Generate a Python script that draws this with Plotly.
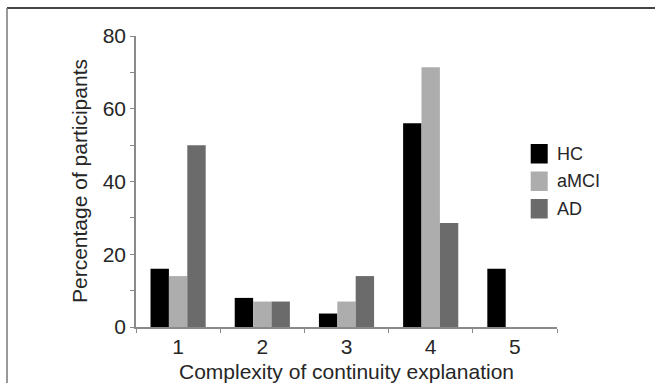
import plotly.graph_objects as go

categories = ["1", "2", "3", "4", "5"]
series_names = ["HC", "aMCI", "AD"]
hc = [16, 8, 3.7, 56, 16]
amci = [14, 7, 7, 71.4, 0]
ad = [50, 7, 14, 28.6, 0]
colors = ["#000000", "#adadad", "#6b6b6b"]
y_ticks = [0, 20, 40, 60, 80]

W, H = 655, 383
ML, MR, MT, MB = 136, 98, 36, 56
pw = W - ML - MR
ph = H - MT - MB
FONT = "Liberation Sans, Arial, sans-serif"
TXT = "#262626"

fig = go.Figure()
for name, vals, col in zip(series_names, [hc, amci, ad], colors):
    fig.add_trace(go.Bar(x=categories, y=vals, name=name, marker=dict(color=col, line=dict(width=0)),
                         showlegend=False))

fig.update_layout(
    width=W, height=H,
    margin=dict(l=ML, r=MR, t=MT, b=MB),
    paper_bgcolor="white", plot_bgcolor="white",
    barmode="group", bargap=0.345, bargroupgap=0,
    font=dict(family=FONT, size=21, color=TXT),
)
fig.update_xaxes(
    type="category", range=[-0.5, 4.5], showgrid=False, zeroline=False,
    showline=True, linecolor="#8a8a8a", linewidth=1.5,
    ticks="outside", tickson="boundaries", ticklen=4, tickcolor="#8a8a8a", tickwidth=1,
    tickfont=dict(size=21, color=TXT), ticklabelstandoff=0,
)
fig.update_yaxes(
    range=[0, 80], tickvals=y_ticks, showgrid=False, zeroline=False,
    showline=True, linecolor="#8a8a8a", linewidth=1.5,
    ticks="outside", ticklen=4, tickcolor="#8a8a8a", tickwidth=1,
    minor=dict(dtick=10, ticks="outside", ticklen=4, tickcolor="#8a8a8a", showgrid=False),
    tickfont=dict(size=21, color=TXT),
)

# axis titles
fig.add_annotation(text="Complexity of continuity explanation", xref="paper", yref="paper",
                   x=0.5, y=-(371 - (MT + ph)) / ph, xanchor="center", yanchor="middle",
                   showarrow=False, font=dict(size=21, color=TXT))
fig.add_annotation(text="Percentage of participants", xref="paper", yref="paper",
                   x=(79.5 - ML) / pw, y=0.5, xanchor="center", yanchor="middle", textangle=-90,
                   showarrow=False, font=dict(size=21, color=TXT))

# custom legend
lx0, lx1 = 530.7, 547.7
ly0 = 144
for i, (name, col) in enumerate(zip(series_names, colors)):
    top = ly0 + i * 27.5
    fig.add_shape(type="rect", xref="paper", yref="paper",
                  x0=(lx0 - ML) / pw, x1=(lx1 - ML) / pw,
                  y0=(MT + ph - top) / ph, y1=(MT + ph - top - 19.5) / ph,
                  fillcolor=col, line=dict(width=0))
    fig.add_annotation(text=name, xref="paper", yref="paper",
                       x=(555 - ML) / pw, y=(MT + ph - top - 9.75) / ph,
                       xanchor="left", yanchor="middle", showarrow=False,
                       font=dict(size=18, color=TXT))

# frame lines of the figure panel
fig.add_shape(type="line", xref="paper", yref="paper",
              x0=(7 - ML) / pw, x1=(W - ML) / pw, y0=(MT + ph - 8) / ph, y1=(MT + ph - 8) / ph,
              line=dict(color="#444444", width=2))
fig.add_shape(type="line", xref="paper", yref="paper",
              x0=(7 - ML) / pw, x1=(7 - ML) / pw, y0=(MT + ph - 8) / ph, y1=(MT + ph - H) / ph,
              line=dict(color="#777777", width=1.5))

fig.write_html("out.html")
